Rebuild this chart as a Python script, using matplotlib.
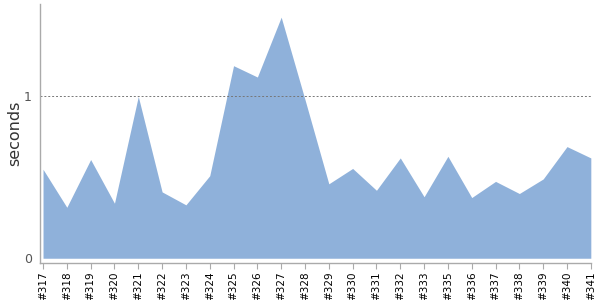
import matplotlib
matplotlib.use("Agg")
import matplotlib.pyplot as plt

# build ids and durations (seconds)
builds = ['#317', '#318', '#319', '#320', '#321', '#322', '#323', '#324',
          '#325', '#326', '#327', '#328', '#329', '#330', '#331', '#332',
          '#333', '#335', '#336', '#337', '#338', '#339', '#340', '#341']
seconds = [0.55, 0.315, 0.61, 0.34, 1.0, 0.41, 0.33, 0.51,
           1.19, 1.12, 1.49, 0.98, 0.46, 0.555, 0.42, 0.62,
           0.38, 0.63, 0.375, 0.475, 0.40, 0.49, 0.69, 0.62]

fill_color = '#8fb1da'
axis_color = '#aaaaaa'

fig = plt.figure(figsize=(6, 3), dpi=100)
ax = fig.add_axes([0.0667, 0.123, 0.918, 0.863])

x = list(range(len(builds)))
ax.fill_between(x, 0, seconds, color=fill_color, linewidth=0)

ax.set_xlim(-0.126, len(builds) - 1)
ax.set_ylim(-0.03, 1.57)

ax.axhline(1, color='#777777', linestyle=(0, (2, 2)), linewidth=0.7)

ax.set_xticks(x)
ax.set_xticklabels(builds, rotation=90, fontsize=7.5, color='black')
ax.set_yticks([0, 1])
ax.set_yticklabels(['0', '1'], fontsize=9, color='#555555')
ax.tick_params(axis='x', length=4, color=axis_color, pad=2)
ax.tick_params(axis='y', length=0, pad=6)

ax.set_ylabel('seconds', fontsize=11.5, color='#333333', labelpad=1)

for side in ['top', 'right']:
    ax.spines[side].set_visible(False)
for side in ['left', 'bottom']:
    ax.spines[side].set_color(axis_color)
    ax.spines[side].set_linewidth(1)

fig.savefig('out.png', dpi=100)
